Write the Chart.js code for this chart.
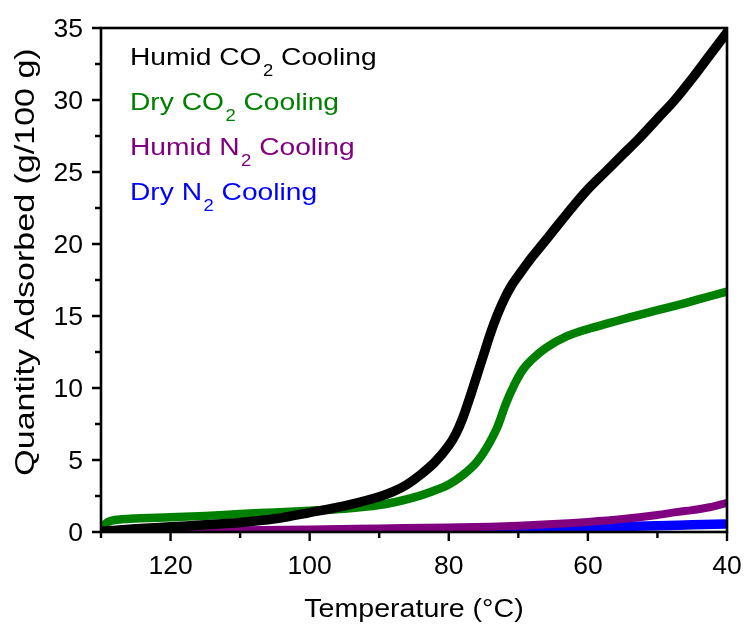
<!DOCTYPE html>
<html>
<head>
<meta charset="utf-8">
<title>Quantity adsorbed on cooling</title>
<script src="https://cdn.jsdelivr.net/npm/chart.js@4/dist/chart.umd.min.js"></script>
<style>
  html, body { margin: 0; padding: 0; background: #ffffff; }
  #wrap { width: 745px; height: 628px; position: relative; }
</style>
</head>
<body>
<div id="wrap"><canvas id="c" width="745" height="628"></canvas></div>
<script>
// Temperature (°C) and quantity adsorbed (g/100 g) for each cooling run
const humidCO2Temp = [130, 125, 120, 115, 110, 105, 100, 95, 90, 88, 86, 84, 82, 80, 79, 78, 77, 76, 75, 74, 73, 72, 71, 70, 68.5, 67, 65, 62.5, 60, 57.5, 55, 52.5, 50, 47.5, 45, 42.5, 40];
const humidCO2Qty  = [0.05, 0.22, 0.36, 0.5, 0.66, 0.92, 1.35, 1.82, 2.45, 2.8, 3.3, 4.0, 4.85, 6.0, 6.8, 7.9, 9.3, 10.8, 12.3, 13.8, 15.1, 16.2, 17.1, 17.8, 18.8, 19.7, 20.9, 22.4, 23.8, 25.0, 26.2, 27.4, 28.7, 30.0, 31.5, 33.1, 34.7];

const dryCO2Temp = [129.8, 129.3, 128.5, 127, 125, 120, 115, 110, 105, 100, 95, 90, 87.5, 85, 82.5, 80, 78, 76, 74.5, 73, 71.8, 70.5, 69.3, 68, 66, 63, 60, 57, 54, 50, 46, 43, 40];
const dryCO2Qty  = [0.3, 0.6, 0.78, 0.88, 0.94, 1.02, 1.12, 1.25, 1.36, 1.48, 1.62, 1.87, 2.1, 2.4, 2.8, 3.3, 3.95, 4.85, 5.9, 7.3, 8.9, 10.3, 11.3, 12.0, 12.8, 13.6, 14.1, 14.5, 14.9, 15.4, 15.9, 16.3, 16.7];

const humidN2Temp = [130, 120, 110, 100, 90, 80, 74, 70, 65, 60, 55, 50, 47, 45, 42.5, 40];
const humidN2Qty  = [0.1, 0.08, 0.12, 0.18, 0.25, 0.32, 0.37, 0.43, 0.55, 0.7, 0.9, 1.18, 1.4, 1.52, 1.72, 2.03];

const dryN2Temp = [80, 75, 70, 65, 60, 55, 50, 45, 40.3];
const dryN2Qty  = [0.1, 0.13, 0.2, 0.27, 0.33, 0.38, 0.43, 0.5, 0.56];

// Axis ticks
const tempMajorTicks = [120, 100, 80, 60, 40];
const tempMinorTicks = [130, 110, 90, 70, 50];
const qtyMajorTicks = [0, 5, 10, 15, 20, 25, 30, 35];
const qtyMinorTicks = [2.5, 7.5, 12.5, 17.5, 22.5, 27.5, 32.5];

const seriesNames = ['Humid CO', 'Dry CO', 'Humid N', 'Dry N'];
const seriesColors = ['#000000', '#008000', '#800080', '#0000ff'];

const FONT = '"Liberation Sans", Arial, Helvetica, sans-serif';

function toPoints(xs, ys) {
  return xs.map((x, i) => ({ x: x, y: ys[i] }));
}

// text drawn with a horizontal stretch
function stretchedText(ctx, text, x, y, sx, align) {
  ctx.save();
  ctx.translate(x, y);
  ctx.scale(sx, 1);
  ctx.textAlign = align;
  ctx.textBaseline = 'alphabetic';
  ctx.fillText(text, 0, 0);
  ctx.restore();
}

// Frame, tick marks, tick labels, axis titles and the in-plot key
const framePlugin = {
  id: 'frame',
  afterDraw(chart) {
    const ctx = chart.ctx;
    const a = chart.chartArea;
    const xs = chart.scales.x;
    const ys = chart.scales.y;
    ctx.save();
    ctx.strokeStyle = '#000';
    ctx.fillStyle = '#000';

    // tick marks
    ctx.lineWidth = 2.4;
    ctx.beginPath();
    tempMajorTicks.forEach(v => { const p = xs.getPixelForValue(v); ctx.moveTo(p, a.bottom); ctx.lineTo(p, a.bottom + 9); });
    tempMinorTicks.forEach(v => { const p = xs.getPixelForValue(v); ctx.moveTo(p, a.bottom); ctx.lineTo(p, a.bottom + 6); });
    qtyMajorTicks.forEach(v => { const p = ys.getPixelForValue(v); ctx.moveTo(a.left, p); ctx.lineTo(a.left - 9, p); });
    qtyMinorTicks.forEach(v => { const p = ys.getPixelForValue(v); ctx.moveTo(a.left, p); ctx.lineTo(a.left - 6, p); });
    ctx.stroke();

    // plot frame
    ctx.lineWidth = 2.6;
    ctx.strokeRect(a.left, a.top, a.right - a.left, a.bottom - a.top);

    // tick labels
    const tickSize = 25;
    ctx.font = tickSize + 'px ' + FONT;
    tempMajorTicks.forEach(v => {
      stretchedText(ctx, String(v), xs.getPixelForValue(v), a.bottom + 42, 1.06, 'center');
    });
    qtyMajorTicks.forEach(v => {
      stretchedText(ctx, String(v), a.left - 18, ys.getPixelForValue(v) + tickSize * 0.36, 1.06, 'right');
    });

    // axis titles
    ctx.font = '25.5px ' + FONT;
    stretchedText(ctx, 'Temperature (\u00B0C)', (a.left + a.right) / 2, 617, 1.12, 'center');
    ctx.font = '27px ' + FONT;
    ctx.save();
    ctx.translate(34, 262);
    ctx.rotate(-Math.PI / 2);
    stretchedText(ctx, 'Quantity Adsorbed (g/100 g)', 0, 0, 1.26, 'center');
    ctx.restore();

    // key: name, subscript 2, " Cooling"
    const sx = 1.15;
    const mainFont = '24.5px ' + FONT;
    const subFont = '16px ' + FONT;
    seriesNames.forEach((name, i) => {
      const baseY = 65 + i * 45;
      let x = 130;
      ctx.fillStyle = seriesColors[i];
      ctx.font = mainFont;
      stretchedText(ctx, name, x, baseY, sx, 'left');
      x += ctx.measureText(name).width * sx + 1.5;
      ctx.font = subFont;
      stretchedText(ctx, '2', x, baseY + 11, sx, 'left');
      x += ctx.measureText('2').width * sx;
      ctx.font = mainFont;
      stretchedText(ctx, ' Cooling', x, baseY, sx, 'left');
    });
    ctx.restore();
  }
};

const lineStyle = (color, width) => ({
  borderColor: color,
  backgroundColor: color,
  borderWidth: width,
  pointRadius: 0,
  fill: false,
  cubicInterpolationMode: 'monotone',
  borderCapStyle: 'round',
  borderJoinStyle: 'round'
});

new Chart(document.getElementById('c'), {
  type: 'line',
  data: {
    datasets: [
      Object.assign({ label: 'Humid CO2 Cooling', data: toPoints(humidCO2Temp, humidCO2Qty) }, lineStyle(seriesColors[0], 9.5)),
      Object.assign({ label: 'Dry CO2 Cooling', data: toPoints(dryCO2Temp, dryCO2Qty) }, lineStyle(seriesColors[1], 8.5)),
      Object.assign({ label: 'Humid N2 Cooling', data: toPoints(humidN2Temp, humidN2Qty) }, lineStyle(seriesColors[2], 8)),
      Object.assign({ label: 'Dry N2 Cooling', data: toPoints(dryN2Temp, dryN2Qty) }, lineStyle(seriesColors[3], 9.5))
    ]
  },
  options: {
    responsive: false,
    animation: false,
    devicePixelRatio: 1,
    layout: { padding: { top: 28, right: 18, left: 0, bottom: 0 } },
    plugins: { legend: { display: false }, tooltip: { enabled: false } },
    scales: {
      x: {
        type: 'linear', reverse: true, min: 40, max: 130,
        ticks: { display: false, stepSize: 10 },
        grid: { display: false }, border: { display: false },
        afterFit: s => { s.height = 96; }
      },
      y: {
        type: 'linear', min: 0, max: 35,
        ticks: { display: false, stepSize: 2.5 },
        grid: { display: false }, border: { display: false },
        afterFit: s => { s.width = 101; }
      }
    }
  },
  plugins: [framePlugin]
});
</script>
</body>
</html>
